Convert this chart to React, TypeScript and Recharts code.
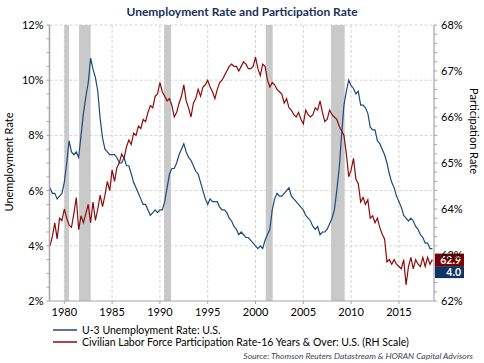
import React from "react";
import {
  LineChart,
  Line,
  XAxis,
  YAxis,
  CartesianGrid,
  ReferenceArea,
  ReferenceDot,
} from "recharts";

// Quarterly observations (decimal year)
const years = [
  1978.5, 1978.75,
  1979, 1979.25, 1979.5, 1979.75,
  1980, 1980.25, 1980.5, 1980.75,
  1981, 1981.25, 1981.5, 1981.75,
  1982, 1982.25, 1982.5, 1982.75,
  1983, 1983.25, 1983.5, 1983.75,
  1984, 1984.25, 1984.5, 1984.75,
  1985, 1985.25, 1985.5, 1985.75,
  1986, 1986.25, 1986.5, 1986.75,
  1987, 1987.25, 1987.5, 1987.75,
  1988, 1988.25, 1988.5, 1988.75,
  1989, 1989.25, 1989.5, 1989.75,
  1990, 1990.25, 1990.5, 1990.75,
  1991, 1991.25, 1991.5, 1991.75,
  1992, 1992.25, 1992.5, 1992.75,
  1993, 1993.25, 1993.5, 1993.75,
  1994, 1994.25, 1994.5, 1994.75,
  1995, 1995.25, 1995.5, 1995.75,
  1996, 1996.25, 1996.5, 1996.75,
  1997, 1997.25, 1997.5, 1997.75,
  1998, 1998.25, 1998.5, 1998.75,
  1999, 1999.25, 1999.5, 1999.75,
  2000, 2000.25, 2000.5, 2000.75,
  2001, 2001.25, 2001.5, 2001.75,
  2002, 2002.25, 2002.5, 2002.75,
  2003, 2003.25, 2003.5, 2003.75,
  2004, 2004.25, 2004.5, 2004.75,
  2005, 2005.25, 2005.5, 2005.75,
  2006, 2006.25, 2006.5, 2006.75,
  2007, 2007.25, 2007.5, 2007.75,
  2008, 2008.25, 2008.5, 2008.75,
  2009, 2009.25, 2009.5, 2009.75,
  2010, 2010.25, 2010.5, 2010.75,
  2011, 2011.25, 2011.5, 2011.75,
  2012, 2012.25, 2012.5, 2012.75,
  2013, 2013.25, 2013.5, 2013.75,
  2014, 2014.25, 2014.5, 2014.75,
  2015, 2015.25, 2015.5, 2015.75,
  2016, 2016.25, 2016.5, 2016.75,
  2017, 2017.25, 2017.5, 2017.75,
  2018, 2018.25, 2018.5,
];

// U-3 unemployment rate (%), left scale
const unemployment = [
  6.1, 5.9,
  5.9, 5.7, 5.8, 5.9,
  6.3, 7.0, 7.8, 7.4,
  7.3, 7.4, 7.2, 8.0,
  8.8, 9.4, 9.9, 10.8,
  10.4, 10.1, 9.6, 8.6,
  7.9, 7.5, 7.4, 7.3,
  7.3, 7.3, 7.2, 7.0,
  7.0, 7.2, 6.9, 6.9,
  6.6, 6.3, 6.1, 5.9,
  5.7, 5.5, 5.5, 5.3,
  5.1, 5.2, 5.3, 5.2,
  5.3, 5.3, 5.6, 6.1,
  6.6, 6.8, 6.8, 7.0,
  7.3, 7.5, 7.7, 7.4,
  7.2, 7.1, 6.9, 6.7,
  6.6, 6.3, 6.0, 5.7,
  5.5, 5.7, 5.6, 5.6,
  5.6, 5.4, 5.3, 5.3,
  5.2, 5.0, 4.9, 4.7,
  4.6, 4.4, 4.5, 4.4,
  4.3, 4.3, 4.2, 4.1,
  4.0, 3.9, 4.0, 3.9,
  4.2, 4.4, 4.6, 5.3,
  5.7, 5.9, 5.8, 5.8,
  5.9, 6.0, 6.1, 5.8,
  5.7, 5.6, 5.5, 5.4,
  5.3, 5.1, 5.0, 4.9,
  4.7, 4.6, 4.7, 4.4,
  4.5, 4.5, 4.6, 4.8,
  5.0, 5.3, 6.0, 6.8,
  8.0, 9.1, 9.6, 10.0,
  9.8, 9.7, 9.5, 9.6,
  9.1, 9.1, 9.0, 8.8,
  8.3, 8.2, 8.2, 7.8,
  7.7, 7.5, 7.3, 7.0,
  6.6, 6.3, 6.1, 5.8,
  5.6, 5.4, 5.1, 5.0,
  4.9, 5.0, 4.9, 4.7,
  4.6, 4.4, 4.3, 4.1,
  4.1, 3.9, 3.9,
];

// Civilian labor force participation rate, 16+ (%), right scale
const participation = [
  63.2, 63.4,
  63.7, 63.35, 63.8, 63.75,
  64.0, 63.8, 63.65, 63.6,
  63.9, 64.25, 63.55, 63.85,
  63.7, 63.9, 64.1, 63.7,
  64.15, 63.75, 64.0, 64.3,
  64.05, 64.3, 64.6, 64.4,
  64.85, 64.6, 64.9, 65.0,
  65.2, 65.1, 65.35, 65.5,
  65.4, 65.65, 65.6, 65.8,
  65.75, 65.95, 65.9, 66.1,
  66.25, 66.2, 66.45, 66.5,
  66.75, 66.55, 66.45, 66.35,
  66.4, 66.25, 66.0, 66.1,
  66.3, 66.45, 66.7, 66.35,
  66.2, 66.0, 66.3, 66.4,
  66.6, 66.45, 66.65, 66.7,
  66.8, 66.65, 66.55, 66.4,
  66.6, 66.75, 66.8, 66.9,
  67.0, 67.1, 67.15, 67.1,
  67.1, 67.0, 67.1, 67.2,
  67.15, 67.05, 67.05, 67.1,
  67.3, 67.05, 66.9, 67.15,
  67.1, 66.8, 66.65, 66.75,
  66.7, 66.6, 66.55, 66.5,
  66.3, 66.4, 66.2, 66.15,
  66.05, 66.0, 66.1, 65.95,
  65.85, 66.15, 66.05, 66.0,
  66.05, 66.2, 66.15, 66.35,
  66.1, 65.9, 65.95, 66.15,
  66.05, 66.0, 65.95, 65.8,
  65.7, 65.6, 65.2, 64.7,
  64.85, 65.1, 64.65, 64.55,
  64.15, 64.25, 64.1, 64.2,
  63.8, 63.85, 63.7, 63.8,
  63.6, 63.45, 63.35, 62.85,
  62.9, 62.8, 62.9, 62.8,
  62.75, 62.7, 62.9, 62.35,
  62.75, 62.95, 62.7, 62.9,
  62.8, 62.75, 62.95, 62.75,
  62.95, 62.8, 62.9,
];

// Recession periods (decimal years)
const recessionStarts = [1980.0, 1981.54, 1990.43, 2001.07, 2007.9];
const recessionEnds = [1980.5, 1982.76, 1991.16, 2001.8, 2009.33];

const xDomain = [1978.45, 2018.67];
const xTicks = [1980, 1985, 1990, 1995, 2000, 2005, 2010, 2015];
const leftTicks = [2, 2.5, 3, 3.5, 4, 4.5, 5, 5.5, 6, 6.5, 7, 7.5, 8, 8.5, 9, 9.5, 10, 10.5, 11, 11.5, 12];
const leftMajor = [2, 4, 6, 8, 10, 12];
const rightTicks = [
  62, 62.2, 62.4, 62.6, 62.8, 63, 63.2, 63.4, 63.6, 63.8, 64, 64.2, 64.4, 64.6, 64.8, 65,
  65.2, 65.4, 65.6, 65.8, 66, 66.2, 66.4, 66.6, 66.8, 67, 67.2, 67.4, 67.6, 67.8, 68,
];
const rightMajor = [62, 63, 64, 65, 66, 67, 68];
const gridRows = [4, 6, 8, 10, 12];

const lastParticipationLabel = "62.9";
const lastUnemploymentLabel = "4.0";

const BLUE = "#1b4a7c";
const RED = "#8e0b0b";
const FONT = "Lato, 'Open Sans', sans-serif";

const data = years.map((y, i) => ({
  year: y,
  unemployment: unemployment[i],
  participation: participation[i],
}));

const LabelBoxes = (props: any) => {
  const { cx, cy } = props;
  const x = cx + 1;
  const w = 29;
  return (
    <g>
      <rect x={x} y={cy - 6} width={w} height={12.5} fill="#7d0000" />
      <text x={x + w - 3} y={cy + 4} textAnchor="end" fill="#fff" fontSize={10.5} fontWeight={700} fontFamily={FONT}>
        {lastParticipationLabel}
      </text>
      <rect x={x} y={cy + 6.5} width={w} height={12} fill="#0f3461" />
      <text x={x + w - 3} y={cy + 16.5} textAnchor="end" fill="#fff" fontSize={10.5} fontWeight={700} fontFamily={FONT}>
        {lastUnemploymentLabel}
      </text>
    </g>
  );
};

export default function App() {
  return (
    <div style={{ position: "absolute", left: 0, top: 0, width: 484, height: 363, background: "#fff" }}>
      <LineChart
        width={484}
        height={363}
        data={data}
        margin={{ top: 25, right: 0, bottom: 0, left: 0 }}
      >
        <CartesianGrid
          yAxisId="left"
          stroke="#d4d4d4"
          strokeDasharray="3 2"
          horizontalValues={gridRows}
          verticalValues={xTicks}
        />
        {recessionStarts.map((s, i) => (
          <ReferenceArea
            key={i}
            yAxisId="left"
            x1={s}
            x2={recessionEnds[i]}
            fill="#c9c9c9"
            fillOpacity={1}
            stroke="none"
          />
        ))}
        <XAxis
          dataKey="year"
          type="number"
          domain={xDomain}
          ticks={xTicks}
          interval={0}
          allowDataOverflow
          height={62}
          axisLine={{ stroke: "#a6a6a6", strokeWidth: 1.2 }}
          tickLine={{ stroke: "#a6a6a6" }}
          tickSize={3}
          tickMargin={4}
          tick={{ fontSize: 11, fill: "#000", fontFamily: FONT }}
        />
        <YAxis
          yAxisId="left"
          orientation="left"
          width={49.5}
          domain={[2, 12]}
          ticks={leftTicks}
          interval={0}
          allowDataOverflow
          axisLine={{ stroke: "#a6a6a6", strokeWidth: 1.5 }}
          tickLine={{ stroke: "#a6a6a6" }}
          tickSize={3}
          tickMargin={3}
          tickFormatter={(v: number) => (leftMajor.includes(v) ? `${v}%` : "")}
          tick={{ fontSize: 11, fill: "#000", fontFamily: FONT }}
        />
        <YAxis
          yAxisId="right"
          orientation="right"
          width={50}
          domain={[62, 68]}
          ticks={rightTicks}
          interval={0}
          allowDataOverflow
          axisLine={{ stroke: "#a6a6a6", strokeWidth: 1.2 }}
          tickLine={{ stroke: "#a6a6a6" }}
          tickSize={3}
          tickMargin={4}
          tickFormatter={(v: number) => (rightMajor.includes(v) ? `${v}%` : "")}
          tick={{ fontSize: 11, fill: "#000", fontFamily: FONT }}
        />
        <Line
          yAxisId="right"
          dataKey="participation"
          stroke={RED}
          strokeWidth={1.2}
          dot={false}
          type="linear"
          isAnimationActive={false}
        />
        <Line
          yAxisId="left"
          dataKey="unemployment"
          stroke={BLUE}
          strokeWidth={1.2}
          dot={false}
          type="linear"
          isAnimationActive={false}
        />
        <ReferenceDot
          yAxisId="right"
          x={xDomain[1]}
          y={62.9}
          r={0}
          ifOverflow="visible"
          shape={LabelBoxes}
        />
      </LineChart>
      <svg
        width={484}
        height={363}
        style={{ position: "absolute", left: 0, top: 0, pointerEvents: "none" }}
      >
        <text x={242} y={16} textAnchor="middle" fontSize={12} fontWeight={700} fill="#1a2f5a" fontFamily={FONT}>
          Unemployment Rate and Participation Rate
        </text>
        <text
          transform="translate(13,162) rotate(-90)"
          textAnchor="middle"
          fontSize={11}
          fill="#000"
          fontFamily={FONT}
        >
          Unemployment Rate
        </text>
        <text
          transform="translate(470,131) rotate(90)"
          textAnchor="middle"
          fontSize={11}
          fill="#000"
          fontFamily={FONT}
        >
          Participation Rate
        </text>
        <line x1={53} x2={77} y1={330} y2={330} stroke={BLUE} strokeWidth={1.5} />
        <text x={82} y={334} fontSize={10.5} fill="#000" fontFamily={FONT}>
          U-3 Unemployment Rate: U.S.
        </text>
        <line x1={53} x2={77} y1={342} y2={342} stroke={RED} strokeWidth={1.5} />
        <text x={82} y={346} fontSize={10.5} fill="#000" fontFamily={FONT}>
          Civilian Labor Force Participation Rate-16 Years &amp; Over: U.S. (RH Scale)
        </text>
        <text x={473} y={359} textAnchor="end" fontSize={8.5} fontStyle="italic" fill="#3f3f5a" fontFamily={FONT}>
          Source: Thomson Reuters Datastream &amp; HORAN Capital Advisors
        </text>
      </svg>
    </div>
  );
}
